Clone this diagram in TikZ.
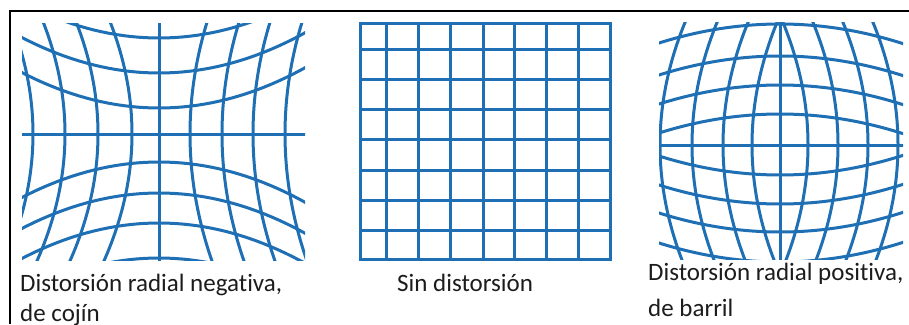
\documentclass[tikz,border=0pt]{standalone}
\usepackage{fontspec}
\setmainfont{Carlito}[Ligatures=NoCommon]
\usetikzlibrary{positioning}
\definecolor{gridblue}{RGB}{31,111,180}
\definecolor{captiontext}{RGB}{28,28,28}

\begin{document}
\begin{tikzpicture}[x=1pt,y=-1pt,
  gridline/.style={gridblue, line width=3pt},
  caption/.style={anchor=base west, inner sep=0pt, text=captiontext,
    font=\fontsize{25}{31}\selectfont}]
\useasboundingbox (0,0) rectangle (909,324);
\draw[line width=2pt] (10,324) -- (10,11) -- (909,11);

% cojin
\begin{scope}
\clip (22,23) rectangle (305,260);
\foreach \xo/\d in {33/23,65/23,98/23,132/23,190/18,222/18,253/18,285/18}
  \draw[gridline] plot[domain=20:262,samples=40,variable=\t]
    ({\xo+sign(\xo-159)*\d*((\t-134)/115)^2},\t);
\foreach \yo in {38,73,108,162,193,223,258}
  \draw[gridline] plot[domain=20:308,samples=40,variable=\t]
    (\t,{\yo+sign(\yo-134)*37*((\t-159)/140)^2});
\draw[gridline] (159,20) -- (159,262);
\draw[gridline] (20,134) -- (308,134);
\end{scope}

% sin distorsion
\foreach \x in {360,386,418,450,483,514,546,578,610}
  \draw[gridline, line cap=rect] (\x,23) -- (\x,259);
\foreach \y in {23,49,79,109,139,170,200,230,259}
  \draw[gridline, line cap=rect] (360,\y) -- (610,\y);

% barril
\begin{scope}
\clip (659,22) rectangle (903,259);
\foreach \xo in {660,692,723,752,808,838,868,898}
  \draw[gridline] plot[domain=20:262,samples=40,variable=\t]
    ({\xo-sign(\xo-780)*22*((\t-145)/115)^2},\t);
\foreach \yo in {24,56,85,114,175,204,232,262}
  \draw[gridline] plot[domain=656:906,samples=40,variable=\t]
    (\t,{\yo-sign(\yo-145)*19*((\t-780)/121)^2});
\draw[gridline] (780,20) -- (780,262);
\draw[gridline] (656,145) -- (906,145);
\end{scope}

\node[caption] (neg1) at (20,291) {Distorsión radial negativa,};
\node[caption] (neg2) at (20,321) {de cojín};
\node[caption] (sin) at (397,291) {Sin distorsión};
\node[caption] (pos1) at (648,280) {Distorsión radial positiva,};
\node[caption] (pos2) at (648,316) {de barril};
\end{tikzpicture}
\end{document}
